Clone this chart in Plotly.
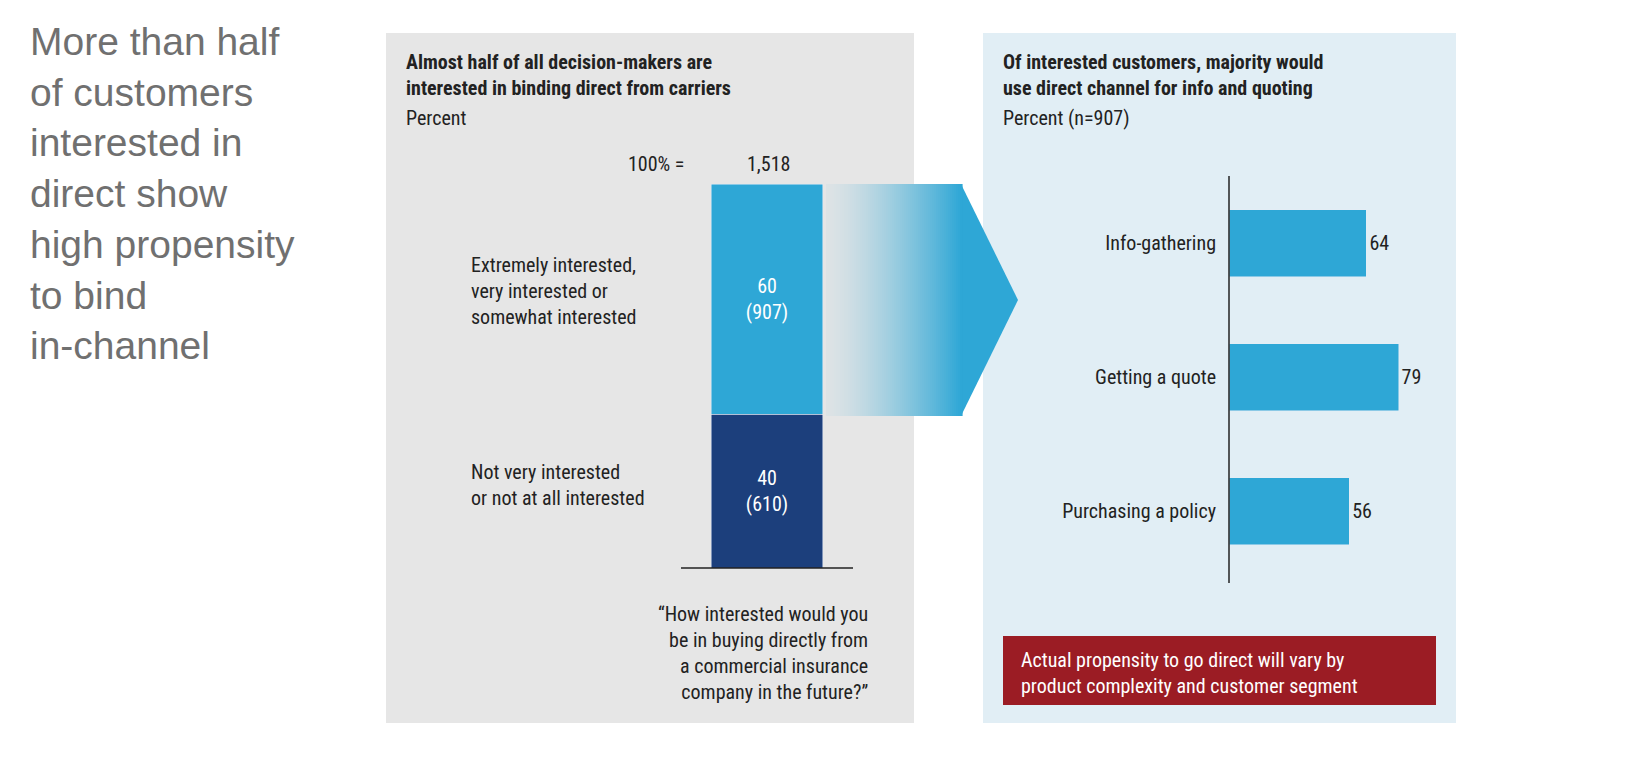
import plotly.graph_objects as go

W, H = 1652, 782

# data
left_segments = ["Extremely interested,<br>very interested or<br>somewhat interested", "Not very interested<br>or not at all interested"]
left_values = [60, 40]
left_counts = [907, 610]
left_total = "1,518"
right_cats = ["Info-gathering", "Getting a quote", "Purchasing a policy"]
right_values = [64, 79, 56]

LIGHT = "#2ea7d6"
DARK = "#1c3f7c"
NARROW = "Liberation Sans Narrow, Arial Narrow, Roboto Condensed, sans-serif"

def px(x):
    return x / W

def py(y):
    return 1 - y / H

fig = go.Figure()

# left stacked bar (bottom segment first)
for val, cnt, col in [(left_values[1], left_counts[1], DARK), (left_values[0], left_counts[0], LIGHT)]:
    fig.add_trace(go.Bar(x=["all"], y=[val], marker_color=col, width=0.65,
                         text=[f"{val}<br>({cnt})"], textposition="inside", insidetextanchor="middle",
                         textfont=dict(color="white", size=20, family=NARROW),
                         xaxis="x", yaxis="y", showlegend=False, hoverinfo="skip"))

# right horizontal bars
fig.add_trace(go.Bar(y=right_cats, x=right_values, orientation="h", marker_color=LIGHT, width=0.5,
                     text=right_values, textposition="outside", cliponaxis=False,
                     textfont=dict(color="#222", size=20, family=NARROW),
                     xaxis="x2", yaxis="y2", showlegend=False, hoverinfo="skip"))

shapes = [
    dict(type="rect", xref="paper", yref="paper", x0=px(378), x1=px(906), y0=py(715), y1=py(25),
         fillcolor="#e6e6e6", line_width=0, layer="below"),
    dict(type="rect", xref="paper", yref="paper", x0=px(975), x1=px(1448), y0=py(715), y1=py(25),
         fillcolor="#e1eef5", line_width=0, layer="below"),
    dict(type="line", xref="paper", yref="paper", x0=px(673), x1=px(845), y0=py(560), y1=py(560),
         line=dict(color="#222", width=1.5)),
    dict(type="line", xref="paper", yref="paper", x0=px(1221), x1=px(1221), y0=py(168), y1=py(575),
         line=dict(color="#222", width=1.5)),
    dict(type="rect", xref="paper", yref="paper", x0=px(995), x1=px(1428), y0=py(697), y1=py(628),
         fillcolor="#9b1c24", line_width=0),
    dict(type="path", xref="paper", yref="paper",
         path=f"M {px(953)} {py(176)} L {px(1010)} {py(292)} L {px(953)} {py(408)} Z",
         fillcolor=LIGHT, line_width=0),
]
# gradient band from the bar to the arrow head, blended colours (no overlap)
bg = (230, 230, 230)
fg = (46, 167, 214)
n = 68
for i in range(n):
    x0 = 818 + i * (954 - 818) / n
    x1 = 818 + (i + 1) * (954 - 818) / n
    a = 0.05 + 0.95 * (i / (n - 1)) ** 1.4
    c = tuple(round(bg[k] + (fg[k] - bg[k]) * a) for k in range(3))
    shapes.append(dict(type="rect", xref="paper", yref="paper", x0=px(x0), x1=px(x1 + 0.6),
                       y0=py(408), y1=py(176), fillcolor=f"rgb{c}", line_width=0))

ann = []
def t(x, y, s, size=20, color="#222", align="left", xanchor="left", bold=False, family=NARROW, yanchor="top"):
    ann.append(dict(x=px(x), y=py(y), xref="paper", yref="paper", text=f"<b>{s}</b>" if bold else s,
                    showarrow=False, align=align, xanchor=xanchor, yanchor=yanchor,
                    font=dict(size=size, color=color, family=family)))

t(20, 10, "More than half<br>of customers<br>interested in<br>direct show<br>high propensity<br>to bind<br>in-channel",
  size=39, color="#707070", family="Liberation Sans, Arial, sans-serif")
t(396, 40, "Almost half of all decision-makers are<br>interested in binding direct from carriers", bold=True)
t(396, 96, "Percent")
t(993, 40, "Of interested customers, majority would<br>use direct channel for info and quoting", bold=True)
t(993, 96, "Percent (n=907)")
t(678, 142, "100% =", xanchor="right")
t(760, 142, left_total, xanchor="center")
t(461, 243, left_segments[0])
t(461, 450, left_segments[1])
t(862, 592, "\u201cHow interested would you<br>be in buying directly from<br>a commercial insurance<br>company in the future?\u201d",
  align="right", xanchor="right")
t(1011, 638, "Actual propensity to go direct will vary by<br>product complexity and customer segment", color="white")

fig.update_layout(
    width=W, height=H, margin=dict(l=0, r=0, t=0, b=0),
    paper_bgcolor="white", plot_bgcolor="rgba(0,0,0,0)",
    barmode="stack", shapes=shapes, annotations=ann,
    xaxis=dict(domain=[px(673), px(845)], visible=False, fixedrange=True),
    yaxis=dict(domain=[py(560), py(176)], range=[0, 100], visible=False),
    xaxis2=dict(domain=[px(1221), px(1440)], range=[0, 102], visible=False, anchor="y2"),
    yaxis2=dict(domain=[py(570), py(168)], anchor="x2", autorange="reversed", showline=False,
                ticks="", tickfont=dict(size=20, color="#222", family=NARROW), ticklabelstandoff=12),
)
fig.write_html("out.html")
